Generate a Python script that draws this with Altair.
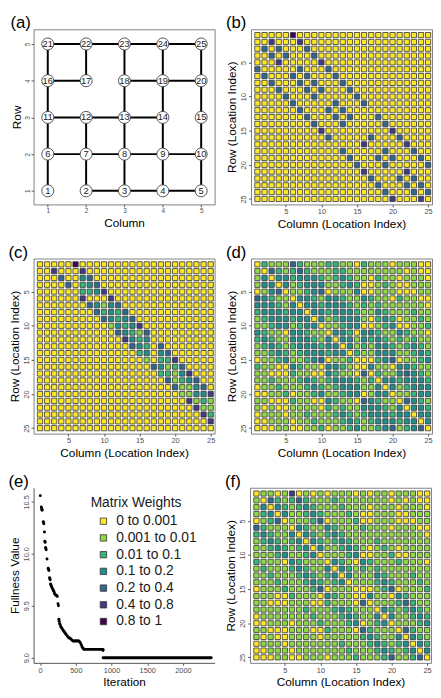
import altair as alt
import pandas as pd

FONT = "Liberation Sans"

# ---------------- legend categories ----------------
weight_labels = ["0 to 0.001", "0.001 to 0.01", "0.01 to 0.1", "0.1 to 0.2",
                 "0.2 to 0.4", "0.4 to 0.8", "0.8 to 1"]
weight_colors = ["#FDE725", "#8FD744", "#35B779", "#21908C", "#31688E", "#443A83", "#440154"]
code_letters = "YLGTBPD"   # one letter per weight class, same order as weight_labels
tick_vals = [5, 10, 15, 20, 25]

# ---------------- panel (a): lattice graph ----------------
node_id = list(range(1, 26))
node_col = [1, 2, 3, 4, 5] * 5
node_row = [1] * 5 + [2] * 5 + [3] * 5 + [4] * 5 + [5] * 5
edge_from = [2, 3, 4, 6, 7, 8, 9, 11, 12, 13, 16, 18, 19, 21, 22, 23, 24,
             1, 6, 11, 16, 2, 7, 17, 3, 8, 13, 18, 4, 9, 14, 19, 5, 10, 15, 20]
edge_to = [3, 4, 5, 7, 8, 9, 10, 12, 13, 14, 17, 19, 20, 22, 23, 24, 25,
           6, 11, 16, 21, 7, 12, 22, 8, 13, 18, 23, 9, 14, 19, 24, 10, 15, 20, 25]

# ---------------- panel (b): non-zero cells "column+class" ----------------
b_cells = {
    1: "6D", 2: "3P 7P", 3: "2B 4B 8B", 4: "3B 5B 9B", 5: "4P 10P",
    6: "1B 7B 11B", 7: "2B 6B 8B 12B", 8: "3B 7B 9B 13B", 9: "4B 8B 10B 14B",
    10: "5B 9B 15B", 11: "6B 12B 16B", 12: "7B 11B 13B", 13: "8B 12B 14B 18B",
    14: "9B 13B 19B", 15: "10P 20P", 16: "11B 17B 21B", 17: "16P 22P",
    18: "13B 19B 23B", 19: "14B 18B 20B 24B", 20: "15B 19B 25B", 21: "16P 22P",
    22: "17B 21B 23B", 23: "18B 22B 24B", 24: "19B 23B 25B", 25: "20P 24P",
}

# ---------------- panel (c): non-zero cells ----------------
c_cells = {
    1: "6D", 2: "3P 7P", 3: "4B 7T 8B", 4: "5B 7G 8T 9B", 5: "7G 8G 9T 10P",
    6: "7P 11P", 7: "8B 9T 10L 11T 12B", 8: "9B 10G 11T 12G 13B",
    9: "10B 11T 12G 13T 14B", 10: "11L 12T 13G 14T 15P", 11: "12B 13T 14G 15L 16B",
    12: "13P 14T 15G 16T", 13: "14B 15T 16G 18B", 14: "15G 16T 18T 19B",
    15: "16L 18G 19G 20P", 16: "17B 18T 19L 20G 21B", 17: "18G 19G 20L 21T 22P",
    18: "19B 20L 21G 22T 23B", 19: "20B 21L 22L 23T 24B", 20: "21L 22L 23T 24T 25P",
    21: "22P 23L 24G 25L", 22: "23P 24L 25L", 23: "24P 25G", 24: "25P", 25: "",
}

# ---------------- panel (d): full rows ----------------
d_rows = [
    "YGLLLBGLLLGGLLYGLLLYLLLYY",
    "LYBGLGBGLLLGGLLLLLLLLYLYY",
    "LTYTTGTTTGLGTGLLYGLLYLLLY",
    "LTTYTLGTTTLLGTGYYLGLYYLLL",
    "YLTBYLLGTBYLLLTYYLLLYYYLL",
    "BTGLLYTTGLTTGLLTGLLYGLLYY",
    "TTTGLTYTTGTTTGLGLGLLLLLLY",
    "GTTTGTTYTTGTTTGLLTGLLLGLL",
    "LGTTTGTTYTLGTTTLYGTGYLLGL",
    "LLGTTLGTTYLLGTTYYLGTYYLLG",
    "TGLLYTTGLLYTTGYTTGLLTGLLY",
    "GTGLLTTTGLTYTTLTGTGLGLGLL",
    "LGTGLGTTTGTTYTLGLTTGLGTGL",
    "LLGTGLGTTTGTTYGLLTTTLLGTG",
    "YLLGTLLGTBYLLGYYYGTBYLLGT",
    "GLLYYTGLLYTTGLYYTLLYTTGLL",
    "LLYYYGLLYYTGLLYBYGLLTBTGL",
    "LLGLLLGTGLGTTTGLGYTTGTTTG",
    "YLLGLLLGTGLGTTTLLTYTLGTTT",
    "YYLLGYLLGTLLGTTYLTTYLLGTT",
    "LLYYYGLLYYTGLLYBTGLLYBTGL",
    "LYLYYLLLLYGLGLLTTTGLTYTTG",
    "YLLLYLLGLLLGTGLGTTTGTTYTT",
    "YYLLLYLLGLLLGTGLGTTTGTTYT",
    "YYYLLYYLLGYLLGTLLGTBLGTBY",
]

# ---------------- panel (f): full rows ----------------
f_rows = [
    "YLLYLPYLYLYLLLYLYLLYLLLYY",
    "LYBGLGBGLLLGLLLLLLLYLYLYY",
    "LTYTGLGTGLLLGLLLYLLLYLLLY",
    "LGTYTLLGTGLLLGLYYLLLYYLLL",
    "YLGBYLLLGBYLLLGYYLLLYYYLL",
    "BGLLLYTGLLTGLLLGLLLYLLLYY",
    "GTGLLTYTGLGTGLLLLLLLLLLLY",
    "LGTGLGTYTGLGTGLLLGLLLLLLL",
    "LLGTGLGTYTLLGTGLYLGLYLLLL",
    "LLLGTLLGTYLLLGTYYLLGYYLLL",
    "GLLLYTGLLLYTGLYTGLLLGLLLY",
    "LGLLLGTGLLTYTGLGLGLLLLLLL",
    "LLGLLLGTGLGTYTLLLTGLLLGLL",
    "LLLGLLLGTGLGTYLLLGTGLLLGL",
    "YLLLGLLLGBYLLLYYYLGBYLLLG",
    "LLLYYGLLLYTGLLYYTLLYTGLLL",
    "LLYYYLLLYYGLLLYBYLLLGBGLL",
    "LLLLLLLGLLLGTGLLLYTGLGTGL",
    "YLLLLLLLGLLLGTGLLTYTLLGTG",
    "YYLLLYLLLGLLLGTYLGTYLLLGT",
    "LLYYYLLLYYGLLLYBGLLLYBGLL",
    "LYLYYLLLLYLLLLLGTGLLTYTGL",
    "YLLLYLLLLLLLGLLLGTGLGTYTG",
    "YYLLLYLLLLLLLGLLLGTGLGTYT",
    "YYYLLYYLLLYLLLGLLLGBLLGBY",
]

# ---------------- panel (e): optimisation trace ----------------
iter_pts = [2, 16, 20, 24, 28, 44, 48, 52, 60, 66, 70, 76, 80, 84, 96, 112, 118, 122,
            132, 136, 140, 146, 150, 156, 162, 168, 176, 184, 192, 200, 210, 220, 230,
            240, 250, 256, 262, 266, 272, 280, 288, 296, 306, 316, 326, 336, 346, 356,
            366, 378, 390, 402, 416, 430, 444, 458, 470, 482, 494, 506, 518, 530, 542,
            554, 566, 578, 590, 602, 614, 880]
fullness = [10.56, 10.45, 10.44, 10.43, 10.42, 10.31, 10.30, 10.29, 10.21, 10.12, 10.11,
            10.06, 10.05, 10.04, 9.95, 9.86, 9.85, 9.84, 9.77, 9.76, 9.75, 9.71, 9.70,
            9.69, 9.68, 9.67, 9.66, 9.65, 9.64, 9.62, 9.61, 9.60, 9.60, 9.59, 9.52, 9.50,
            9.37, 9.35, 9.33, 9.32, 9.30, 9.29, 9.28, 9.27, 9.26, 9.25, 9.24, 9.23, 9.22,
            9.21, 9.20, 9.19, 9.19, 9.18, 9.17, 9.16, 9.16, 9.16, 9.16, 9.16, 9.16, 9.16,
            9.16, 9.15, 9.14, 9.12, 9.10, 9.09, 9.08, 9.07]
plateau_start = [615, 882]
plateau_end = [880, 2395]
plateau_value = [9.08, 9.0]

W, H = 184, 178


def expand_sparse(spec):
    rows = []
    for r in range(1, 26):
        s = ["Y"] * 25
        for tok in spec.get(r, "").split():
            s[int(tok[:-1]) - 1] = tok[-1]
        rows.append("".join(s))
    return rows


def matrix_df(rows):
    recs = []
    for r, s in enumerate(rows, start=1):
        assert len(s) == 25, (r, s)
        for c, ch in enumerate(s, start=1):
            recs.append({"col": c, "row": r, "w": weight_labels[code_letters.index(ch)]})
    return pd.DataFrame(recs)


def matrix_panel(rows, label):
    df = matrix_df(rows)
    return alt.Chart(df, title=alt.TitleParams(label)).transform_calculate(
        x0="datum.col - 0.37", x1="datum.col + 0.37",
        y0="datum.row - 0.38", y1="datum.row + 0.38",
    ).mark_rect(stroke="#333333", strokeWidth=0.8).encode(
        x=alt.X("x0:Q", scale=alt.Scale(domain=[0.1, 25.55], nice=False, zero=False),
                axis=alt.Axis(values=tick_vals, title="Column (Location Index)")),
        x2="x1:Q",
        y=alt.Y("y0:Q", scale=alt.Scale(domain=[0.15, 25.8], reverse=True, nice=False, zero=False),
                axis=alt.Axis(values=tick_vals, title="Row (Location Index)",
                              labelAngle=270, labelAlign="center", labelBaseline="bottom")),
        y2="y1:Q",
        color=alt.Color("w:N", scale=alt.Scale(domain=weight_labels, range=weight_colors), legend=None),
    ).properties(width=W, height=H)


# ---- panel (a)
nodes = pd.DataFrame({"id": node_id, "col": node_col, "row": node_row})
edges = pd.DataFrame({
    "x": [node_col[i - 1] for i in edge_from], "y": [node_row[i - 1] for i in edge_from],
    "x2": [node_col[i - 1] for i in edge_to], "y2": [node_row[i - 1] for i in edge_to],
})
ax_a_x = alt.Axis(values=[1, 2, 3, 4, 5], title="Column", labelFontSize=6.5)
ax_a_y = alt.Axis(values=[1, 2, 3, 4, 5], title="Row", labelFontSize=6.5,
                  labelAngle=270, labelAlign="center", labelBaseline="bottom")
sx_a = alt.Scale(domain=[0.63, 5.35], nice=False, zero=False)
sy_a = alt.Scale(domain=[0.63, 5.4], nice=False, zero=False)
edge_layer = alt.Chart(edges).mark_rule(strokeWidth=2, color="black").encode(
    x=alt.X("x:Q", scale=sx_a, axis=ax_a_x), y=alt.Y("y:Q", scale=sy_a, axis=ax_a_y),
    x2="x2:Q", y2="y2:Q")
node_layer = alt.Chart(nodes).mark_circle(size=150, color="white", stroke="#444444",
                                          strokeWidth=0.9, opacity=1).encode(
    x="col:Q", y="row:Q")
label_layer = alt.Chart(nodes).mark_text(fontSize=9.5, color="#222222").encode(
    x="col:Q", y="row:Q", text="id:N")
pa = alt.layer(edge_layer, node_layer, label_layer,
               title=alt.TitleParams("(a)")).properties(width=W, height=H)

# ---- matrices
pb = matrix_panel(expand_sparse(b_cells), "(b)")
pc = matrix_panel(expand_sparse(c_cells), "(c)")
pd_ = matrix_panel(d_rows, "(d)")
pf = matrix_panel(f_rows, "(f)")

# ---- panel (e)
pts = pd.DataFrame({"it": iter_pts, "val": fullness})
plat = pd.DataFrame({"s": plateau_start, "e": plateau_end, "v": plateau_value})
leg = pd.DataFrame({"w": weight_labels})
sx_e = alt.Scale(domain=[-92, 2443], nice=False, zero=False)
sy_e = alt.Scale(domain=[8.95, 10.636], nice=False, zero=False)
e_axis_common = dict(domain=True, domainColor="#555555", domainWidth=1)
pt_layer = alt.Chart(pts).mark_circle(size=9, color="black", opacity=1).encode(
    x=alt.X("it:Q", scale=sx_e, axis=alt.Axis(values=[0, 500, 1000, 1500, 2000], format="d",
                                              title="Iteration", **e_axis_common)),
    y=alt.Y("val:Q", scale=sy_e, axis=alt.Axis(values=[9.0, 9.5, 10.0, 10.5], format=".1f",
                                              title="Fullness Value", labelAngle=270,
                                              labelAlign="center", labelBaseline="bottom",
                                              **e_axis_common)))
plat_layer = alt.Chart(plat).mark_rule(strokeWidth=3, color="black", strokeCap="round").encode(
    x="s:Q", x2="e:Q", y="v:Q")
leg_layer = alt.Chart(leg).mark_square(opacity=0).encode(
    color=alt.Color("w:N", scale=alt.Scale(domain=weight_labels, range=weight_colors),
                    legend=alt.Legend(title="Matrix Weights", orient="none", legendX=58, legendY=9,
                                      titleFontSize=14, titleFontWeight="normal", titleColor="#1a1a1a",
                                      labelFontSize=14, labelColor="#1a1a1a", symbolType="square",
                                      symbolSize=42, symbolOpacity=1, symbolStrokeColor="#333333",
                                      symbolStrokeWidth=0.8, symbolOffset=6, labelOffset=6,
                                      rowPadding=3, titlePadding=4)))
pe = alt.layer(pt_layer, plat_layer, leg_layer, title=alt.TitleParams("(e)")).properties(
    width=W, height=H, view=alt.ViewBackground(strokeWidth=0))

SX = 10


def row(a, b):
    return alt.hconcat(a, b, spacing=SX).resolve_scale(color="independent").resolve_legend(color="independent")


chart = alt.vconcat(row(pa, pb), row(pc, pd_), row(pe, pf), spacing=13).resolve_scale(
    color="independent").resolve_legend(color="independent").properties(padding=0).configure(
    font=FONT).configure_view(stroke="#7f7f7f", strokeWidth=1).configure_axis(
    grid=False, domain=False, labelFontSize=7.5, labelColor="#4d4d4d", labelFlush=False,
    titleFontSize=12, titleFontWeight="normal", titleColor="black", tickColor="#333333",
    tickSize=2.5, tickWidth=0.8, labelPadding=1, titlePadding=1).configure_axisX(
    titlePadding=3).configure_title(
    fontSize=17, fontWeight="normal", anchor="start", offset=-3, color="black")

chart.save("out.html", embed_options={"renderer": "svg", "actions": False})
